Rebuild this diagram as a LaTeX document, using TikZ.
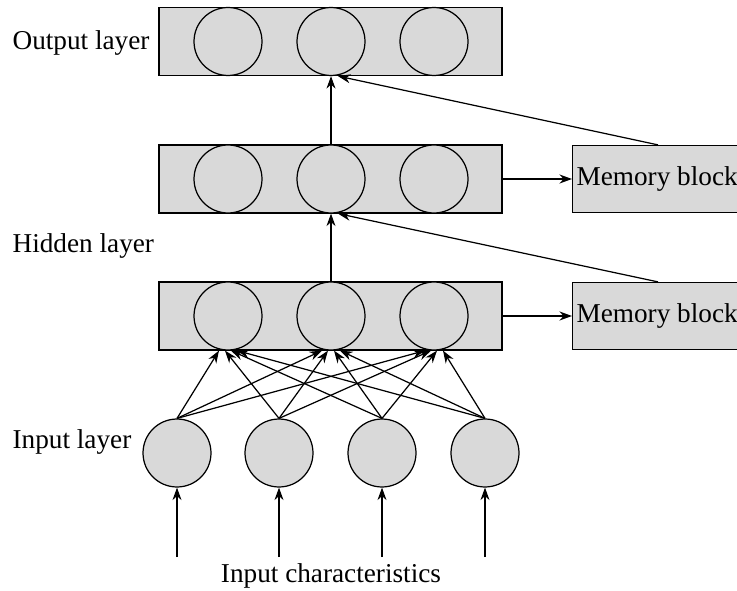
\documentclass[tikz,border=0pt]{standalone}
\usepackage{fontspec}
\setmainfont{Liberation Serif}
\usetikzlibrary{arrows.meta,calc}

\begin{document}
\begin{tikzpicture}[x=0.02cm,y=-0.02cm,line width=0.7pt,
    every node/.style={font=\fontsize{15.5}{18}\selectfont},
    layer/.style={draw,fill=gray!30,minimum width=6.86cm,minimum height=1.36cm,inner sep=0},
    neuron/.style={draw,circle,fill=gray!30,minimum size=1.36cm,inner sep=0},
    memblock/.style={draw,fill=gray!30,minimum height=1.34cm,inner xsep=0.08cm,anchor=west},
    label/.style={anchor=west,inner sep=0},
    arr/.style={-{Stealth[length=2.5mm,width=1.8mm]}}]

    % marco
    \useasboundingbox (0,0) rectangle (737,591);

    % capas (cajas)
    \node[layer] (outbox) at (330.5,41.5) {};
    \node[layer] (hidabox) at (330.5,179) {};
    \node[layer] (hidbbox) at (330.5,316) {};

    % neuronas de las capas
    \node[neuron] (out1) at (228,41.5) {};
    \node[neuron] (out2) at (331,41.5) {};
    \node[neuron] (out3) at (434,41.5) {};
    \node[neuron] (hida1) at (228,179) {};
    \node[neuron] (hida2) at (331,179) {};
    \node[neuron] (hida3) at (434,179) {};
    \node[neuron] (hidb1) at (228,316) {};
    \node[neuron] (hidb2) at (331,316) {};
    \node[neuron] (hidb3) at (434,316) {};

    % neuronas de entrada
    \node[neuron] (in1) at (177,453) {};
    \node[neuron] (in2) at (279,453) {};
    \node[neuron] (in3) at (382,453) {};
    \node[neuron] (in4) at (485,453) {};

    % bloques de memoria (el borde derecho queda fuera del marco)
    \node[memblock] (mem1) at (572,179) {Memory block\hspace{0.15cm}};
    \node[memblock] (mem2) at (572,316) {Memory block\hspace{0.15cm}};

    % etiquetas
    \node[label] (lblout) at (12,43) {Output layer};
    \node[label] (lblhid) at (12,246) {Hidden layer};
    \node[label] (lblin) at (12,442) {Input layer};
    \node (lblchar) at (331,576) {Input characteristics};

    % entradas
    \coordinate (c1) at (177,557);
    \coordinate (c2) at (279,557);
    \coordinate (c3) at (382,557);
    \coordinate (c4) at (485,557);
    \foreach \i in {1,...,4}
        \draw[arr] (c\i) -- (in\i.south);

    % entrada -> oculta
    \foreach \i [evaluate=\i as \dx using (\i-2.5)*6] in {1,...,4}
        \foreach \j in {1,2,3}
            \draw[arr] (in\i.north) -- ($(hidb\j.south)+(\dx,0)$);

    % oculta -> oculta -> salida
    \draw[arr] (hidb2.north) -- (hida2.south);
    \draw[arr] (hida2.north) -- (out2.south);

    % capas -> memoria
    \draw[arr] (hidabox.east) -- (mem1.west);
    \draw[arr] (hidbbox.east) -- (mem2.west);

    % memoria -> capa superior
    \draw[arr] ($(mem2.north west)+(86,0)$) -- ($(hida2.south)+(7,0)$);
    \draw[arr] ($(mem1.north west)+(86,0)$) -- ($(out2.south)+(7,0)$);

\end{tikzpicture}
\end{document}
